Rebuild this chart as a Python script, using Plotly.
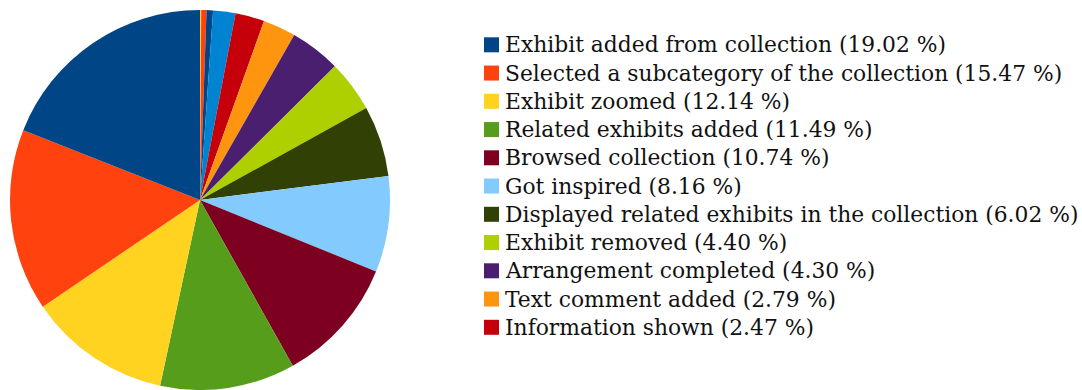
import plotly.graph_objects as go

# Event shares (percent), listed largest first; drawn counterclockwise from 12 o'clock
labels = [
    "Exhibit added from collection",
    "Selected a subcategory of the collection",
    "Exhibit zoomed",
    "Related exhibits added",
    "Browsed collection",
    "Got inspired",
    "Displayed related exhibits in the collection",
    "Exhibit removed",
    "Arrangement completed",
    "Text comment added",
    "Information shown",
    "Minor event A",
    "Minor event B",
    "Minor event C",
    "Minor event D",
]
values = [19.02, 15.47, 12.14, 11.49, 10.74, 8.16, 6.02, 4.40, 4.30, 2.79, 2.47,
          1.90, 0.55, 0.45, 0.10]
colors = ["#004586", "#ff420e", "#ffd320", "#579d1c", "#7e0021", "#83caff",
          "#314004", "#aecf00", "#4b1f6f", "#ff950e", "#c5000b", "#0084d1",
          "#004586", "#ff420e", "#ffd320"]
legend_count = 11  # only the named events appear in the key

W, H = 1082, 390

# Counterclockwise from the top == clockwise from the top with the order reversed
fig = go.Figure(go.Pie(
    labels=labels[::-1],
    values=values[::-1],
    sort=False,
    direction="clockwise",
    rotation=0,
    marker=dict(colors=colors[::-1], line=dict(width=0)),
    textinfo="none",
    hoverinfo="label+percent",
    showlegend=False,
    domain=dict(x=[10 / W, 390 / W], y=[0 / H, 380 / H]),
))

# Key: colored square plus label with share
row0, step = 44.8, 28.25
shapes, annotations = [], []
for i in range(legend_count):
    cy = row0 + i * step
    shapes.append(dict(
        type="rect", xref="paper", yref="paper",
        x0=484 / W, x1=499 / W,
        y0=1 - (cy + 7.5) / H, y1=1 - (cy - 7.5) / H,
        fillcolor=colors[i], line=dict(width=0),
    ))
    annotations.append(dict(
        xref="paper", yref="paper",
        x=503 / W, y=1 - cy / H,
        xanchor="left", yanchor="middle",
        text=f"{labels[i]} ({values[i]:.2f} %)",
        showarrow=False,
        font=dict(family="DejaVu Serif", size=21.8, color="#111111"),
    ))

fig.update_layout(
    width=W, height=H,
    margin=dict(l=0, r=0, t=0, b=0),
    paper_bgcolor="white",
    plot_bgcolor="white",
    shapes=shapes,
    annotations=annotations,
)

fig.write_html("out.html")
